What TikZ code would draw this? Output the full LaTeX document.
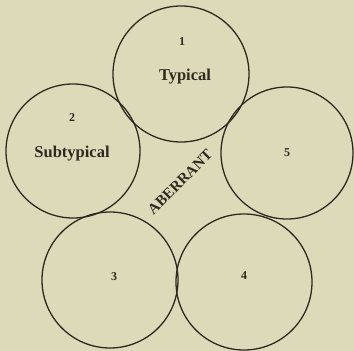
\documentclass[tikz,border=0pt]{standalone}
\usepackage{fontspec}
\setmainfont{Liberation Serif}
\definecolor{paper}{RGB}{221,218,186}
\definecolor{ink}{RGB}{45,42,32}
\begin{document}
\begin{tikzpicture}[x=1pt,y=1pt,
  ring/.style={circle,draw=ink,line width=1.3pt,inner sep=0pt},
  num/.style={text=ink,font=\bfseries\fontsize{12}{14}\selectfont,inner sep=0pt},
  lab/.style={text=ink,font=\bfseries\fontsize{16.5}{18}\selectfont,inner sep=0pt}]
\fill[paper] (0,0) rectangle (354,351);
\useasboundingbox (0,0) rectangle (354,351);
\node[ring,minimum size=136pt] (c1) at (181,277) {};
\node[ring,minimum size=134pt] (c2) at (73,200) {};
\node[ring,minimum size=132pt] (c5) at (287,198) {};
\node[ring,minimum size=136pt] (c3) at (110,71) {};
\node[ring,minimum size=136pt] (c4) at (244,69) {};
\node[num] (n1) at (182,309) {1};
\node[lab] (t1) at (185,274) {Typical};
\node[num] (n2) at (72,233) {2};
\node[lab] (t2) at (72,197) {Subtypical};
\node[num] (n5) at (287,198) {5};
\node[num] (n3) at (114,74) {3};
\node[num] (n4) at (244,75) {4};
\node[lab,rotate=45,font=\bfseries\fontsize{15}{17}\selectfont] (ab) at (180,169) {ABERRANT};
\end{tikzpicture}
\end{document}
